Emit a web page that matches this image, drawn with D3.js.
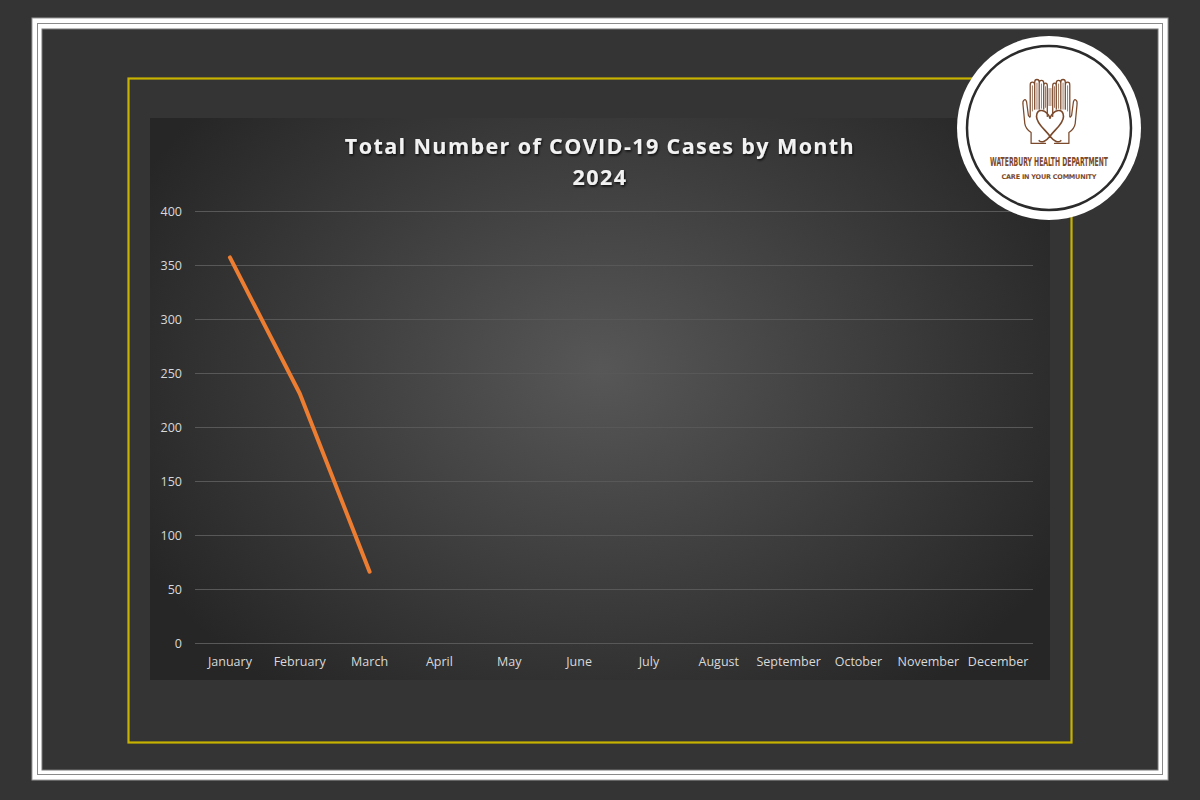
<!DOCTYPE html>
<html>
<head>
<meta charset="utf-8">
<script src="https://cdn.jsdelivr.net/npm/d3@7"></script>
<style>
  html, body { margin: 0; padding: 0; background: #343434; }
  svg { display: block; }
</style>
</head>
<body>
<div id="chart"></div>
<script>
// ---------------- Data ----------------
var months = ["January", "February", "March", "April", "May", "June",
              "July", "August", "September", "October", "November", "December"];
var cases = [357, 231, 66];   // only Jan-Mar reported so far
var yTicks = [0, 50, 100, 150, 200, 250, 300, 350, 400];
var titleLines = ["Total Number of COVID-19 Cases by Month", "2024"];

(function (d3) {
    "use strict";

    var W = 1200, H = 800;
    var svg = d3.select("#chart").append("svg")
        .attr("width", W)
        .attr("height", H);

    var defs = svg.append("defs");

    // background glow of the plot panel
    var grad = defs.append("radialGradient")
        .attr("id", "panelGlow")
        .attr("gradientUnits", "userSpaceOnUse")
        .attr("cx", 600).attr("cy", 370).attr("r", 520)
        .attr("gradientTransform", "translate(600,370) scale(1,0.78) translate(-600,-370)");
    grad.append("stop").attr("offset", "0%").attr("stop-color", "#575757");
    grad.append("stop").attr("offset", "55%").attr("stop-color", "#3c3c3c");
    grad.append("stop").attr("offset", "100%").attr("stop-color", "#262626");

    var shadow = defs.append("filter").attr("id", "txtShadow")
        .attr("x", "-10%").attr("y", "-30%").attr("width", "120%").attr("height", "160%");
    shadow.append("feDropShadow")
        .attr("dx", 1).attr("dy", 1.5).attr("stdDeviation", 1.2)
        .attr("flood-color", "#000").attr("flood-opacity", 0.8);

    // -------------- Frames ---------------
    svg.append("rect").attr("width", W).attr("height", H).attr("fill", "#343434");

    // double white frame
    svg.append("rect")
        .attr("x", 32).attr("y", 18).attr("width", 1136).attr("height", 762)
        .attr("fill", "#ffffff").attr("stroke", "#9a9a9a").attr("stroke-width", 1);
    svg.append("rect")
        .attr("x", 37.5).attr("y", 23.5).attr("width", 1125).attr("height", 751)
        .attr("fill", "none").attr("stroke", "#8a8a8a").attr("stroke-width", 1);
    svg.append("rect")
        .attr("x", 42).attr("y", 29).attr("width", 1116).attr("height", 741)
        .attr("fill", "#343434").attr("stroke", "#777").attr("stroke-width", 1);

    // yellow frame
    svg.append("rect")
        .attr("x", 128.5).attr("y", 78.5).attr("width", 943).attr("height", 664)
        .attr("fill", "none").attr("stroke", "#c8b200").attr("stroke-width", 2.2);

    // plot panel
    svg.append("rect")
        .attr("x", 150).attr("y", 118).attr("width", 900).attr("height", 562)
        .attr("fill", "url(#panelGlow)");

    // -------------- Title ----------------
    svg.append("g").selectAll("text")
        .data(titleLines)
        .join("text")
        .attr("x", 600)
        .attr("y", function (d, i) { return 154 + i * 31; })
        .attr("text-anchor", "middle")
        .attr("font-family", "'Open Sans', sans-serif")
        .attr("font-weight", 700)
        .attr("font-size", 21.5)
        .attr("letter-spacing", 1.4)
        .attr("fill", "#f2f2f2")
        .attr("filter", "url(#txtShadow)")
        .text(function (d) { return d; });

    // -------------- Scales ---------------
    var margin = { left: 195, right: 1033, top: 211, bottom: 643 };

    var xScale = d3.scaleBand()
        .domain(months)
        .range([margin.left, margin.right]);

    var yScale = d3.scaleLinear()
        .domain([0, 400])
        .range([margin.bottom, margin.top]);

    // gridlines
    var g = svg.append("g");
    g.append("g")
        .selectAll("line")
        .data(yTicks)
        .join("line")
        .attr("x1", margin.left).attr("x2", margin.right)
        .attr("y1", function (d) { return yScale(d) + 0.5; })
        .attr("y2", function (d) { return yScale(d) + 0.5; })
        .attr("stroke", "#585858")
        .attr("stroke-width", 1);

    // y axis labels (no axis line)
    var yAxis = d3.axisLeft(yScale).tickValues(yTicks).tickSize(0).tickPadding(13);
    var yG = g.append("g")
        .attr("transform", "translate(" + margin.left + ",0)")
        .call(yAxis);
    yG.select(".domain").remove();
    yG.selectAll("text")
        .attr("font-family", "'Open Sans', sans-serif")
        .attr("font-size", 12.5)
        .attr("fill", "#d9d9d9");

    // x axis labels
    var xAxis = d3.axisBottom(xScale).tickSize(0).tickPadding(14);
    var xG = g.append("g")
        .attr("transform", "translate(0," + margin.bottom + ")")
        .call(xAxis);
    xG.select(".domain").remove();
    xG.selectAll("text")
        .attr("font-family", "'Open Sans', sans-serif")
        .attr("font-size", 12.5)
        .attr("fill", "#d9d9d9");

    // -------------- Line -----------------
    var series = cases.map(function (v, i) { return { month: months[i], value: v }; });

    var line = d3.line()
        .x(function (d) { return xScale(d.month) + xScale.bandwidth() / 2; })
        .y(function (d) { return yScale(d.value); });

    g.append("path")
        .datum(series)
        .attr("class", "line")
        .attr("d", line)
        .attr("fill", "none")
        .attr("stroke", "#ed7d31")
        .attr("stroke-width", 4)
        .attr("stroke-linecap", "round")
        .attr("stroke-linejoin", "round");

    // -------------- Logo badge -----------
    var logo = svg.append("g").attr("transform", "translate(1049,128)");
    logo.append("circle").attr("r", 92).attr("fill", "#ffffff");
    logo.append("circle").attr("r", 82).attr("fill", "none")
        .attr("stroke", "#2b2b2b").attr("stroke-width", 2.5);

    var brown = "#7b4a2c";
    var icon = logo.append("g")
        .attr("transform", "translate(1,-44) scale(0.9)")
        .attr("fill", "none")
        .attr("stroke", brown)
        .attr("stroke-width", 1.4)
        .attr("stroke-linejoin", "round")
        .attr("stroke-linecap", "round");

    // one hand, mirrored for the other
    var handPath =
        "M-3,36 L-3,2 Q-3,-1 -5,-1 Q-7,-1 -7,2 L-7,28" +
        " M-7,4 L-7,-1 Q-7,-4 -9.5,-4 Q-12,-4 -12,-1 L-12,28" +
        " M-12,0 L-12,-2 Q-12,-5 -14.5,-5 Q-17,-5 -17,-2 L-17,28" +
        " M-17,1 Q-17,-2 -19.5,-2 Q-22,-2 -22,1 L-22,36" +
        " Q-22,38 -24,35 L-26,20 Q-27,16 -29,18 Q-30.5,19 -30,23 L-28,44" +
        " Q-27,50 -21,54 L-21,66 L-5,66";
    [1, -1].forEach(function (s) {
        icon.append("path")
            .attr("transform", "scale(" + s + ",1)")
            .attr("d", handPath);
        icon.append("path")
            .attr("transform", "scale(" + s + ",1)")
            .attr("d", "M-1,5 L-1,24 M-5,3 L-5,26 M-9.5,0 L-9.5,27 M-14.5,-1 L-14.5,28 M-19.5,2 L-19.5,30")
            .attr("stroke-width", 0.8);
    });

    // heart with looped tail
    icon.append("path")
        .attr("d", "M0,38 C-4,28 -15,26 -15,36 C-15,44 -6,50 0,58 C4,63 9,66 12,63" +
                   " M0,38 C4,28 15,26 15,36 C15,44 6,50 0,58 C-4,63 -9,66 -12,63")
        .attr("stroke-width", 1.8);

    logo.append("text")
        .attr("y", 37.5)
        .attr("text-anchor", "middle")
        .attr("font-family", "'DejaVu Sans Condensed', 'DejaVu Sans', sans-serif")
        .attr("font-size", 11.5)
        .attr("font-weight", 700)
        .attr("fill", brown)
        .attr("textLength", 118)
        .attr("lengthAdjust", "spacingAndGlyphs")
        .text("WATERBURY HEALTH DEPARTMENT");

    logo.append("text")
        .attr("y", 51)
        .attr("text-anchor", "middle")
        .attr("font-family", "'DejaVu Sans', sans-serif")
        .attr("font-size", 6.5)
        .attr("font-weight", 700)
        .attr("fill", brown)
        .attr("textLength", 95)
        .attr("lengthAdjust", "spacing")
        .text("CARE IN YOUR COMMUNITY");

})(d3);
</script>
</body>
</html>
